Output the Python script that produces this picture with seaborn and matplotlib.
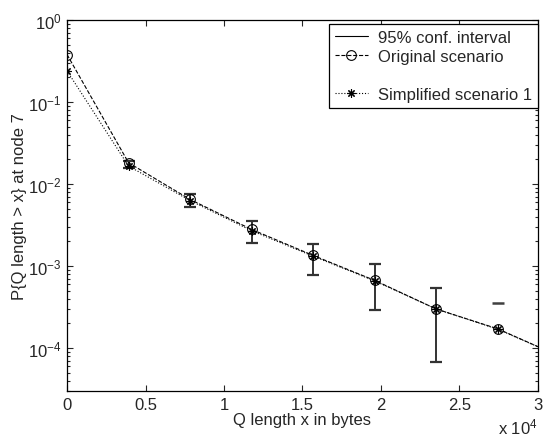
"""Tail probability of the queue length at node 7, original vs simplified."""

import matplotlib
matplotlib.use("Agg")
import matplotlib.pyplot as plt
import matplotlib.ticker as mticker
import pandas as pd
import seaborn as sns
from matplotlib.lines import Line2D

# Queue lengths (bytes) at which the distribution was evaluated.
q_len = [0, 3920, 7840, 11760, 15680, 19600, 23520, 27440, 31360]
p_orig = [0.38, 0.0182, 0.0065, 0.0028, 0.00135, 0.00067, 0.0003, 0.000172, 0.00008]
p_simp = [0.24, 0.0166, 0.0063, 0.0027, 0.00132, 0.00066, 0.0003, 0.00017, 0.00008]

# 95% confidence intervals (x positions, lower and upper bound).
ci_x = [3920, 7840, 11760, 15680, 19600, 23520]
ci_low = [0.0158, 0.0053, 0.00193, 0.00079, 0.00029, 0.000068]
ci_high = [0.0194, 0.0076, 0.00354, 0.00184, 0.00105, 0.000534]
# Last point: only the upper bound is positive.
ci_top_x = [27440]
ci_top = [0.000357]

FS = 12


def _main() -> None:
    sns.set_style("ticks")
    plt.rcParams["font.family"] = ["Liberation Sans", "DejaVu Sans"]
    plt.rcParams["mathtext.default"] = "regular"
    plt.rcParams["font.size"] = FS

    df = pd.DataFrame({"q": q_len, "orig": p_orig, "simp": p_simp})

    fig = plt.figure(figsize=(5.45, 4.39), dpi=100)
    ax = fig.add_axes([0.123, 0.107, 0.864, 0.845])

    # Confidence intervals.
    err_lo = [p - lo for p, lo in zip(p_orig[1:7], ci_low)]
    err_hi = [hi - p for p, hi in zip(p_orig[1:7], ci_high)]
    ax.errorbar(ci_x, p_orig[1:7], yerr=[err_lo, err_hi], fmt="none",
                ecolor="0.2", elinewidth=1.4, capsize=4.5, capthick=1.6)
    ax.plot(ci_top_x, ci_top, linestyle="none", marker="_", color="0.25",
            markersize=9, markeredgewidth=1.8)

    sns.lineplot(data=df, x="q", y="orig", ax=ax, color="k", linestyle="--",
                 linewidth=0.8, marker="o", markersize=7, markerfacecolor="none",
                 markeredgecolor="k", markeredgewidth=0.8, estimator=None)
    sns.lineplot(data=df, x="q", y="simp", ax=ax, color="k", linestyle=":",
                 linewidth=0.8, marker=(8, 2, 0), markersize=6,
                 markeredgecolor="k", markeredgewidth=0.8, estimator=None)

    ax.set_yscale("log")
    ax.set_xlim(0, 30000)
    ax.set_ylim(3e-5, 1)
    ax.set_xticks([0, 5000, 10000, 15000, 20000, 25000, 30000])
    ax.xaxis.set_major_formatter(
        mticker.FuncFormatter(lambda v, _: f"{v / 1e4:g}"))
    ax.yaxis.set_major_locator(mticker.LogLocator(base=10, numticks=10))
    ax.yaxis.set_minor_locator(
        mticker.LogLocator(base=10, subs=range(2, 10), numticks=10))
    ax.yaxis.set_minor_formatter(mticker.NullFormatter())
    ax.tick_params(which="both", direction="in", top=True, right=True,
                   labelsize=FS, width=0.8)
    ax.tick_params(which="major", length=4, pad=4)
    ax.tick_params(which="minor", length=2.5)
    for spine in ax.spines.values():
        spine.set_visible(True)
        spine.set_color("k")
        spine.set_linewidth(0.9)

    ax.set_xlabel("Q length x in bytes", fontsize=FS, labelpad=0)
    ax.set_ylabel("P{Q length > x} at node 7", fontsize=FS, labelpad=1)
    ax.text(1.0, -0.068, "x 10$^4$", transform=ax.transAxes,
            ha="right", va="top", fontsize=FS)

    handles = [
        Line2D([], [], color="k", linewidth=0.8),
        Line2D([], [], color="k", linestyle="--", linewidth=0.8, marker="o",
               markersize=7, markerfacecolor="none", markeredgewidth=0.8),
        Line2D([], [], color="none"),
        Line2D([], [], color="k", linestyle=":", linewidth=0.8,
               marker=(8, 2, 0), markersize=6, markeredgewidth=0.8),
    ]
    labels = ["95% conf. interval", "Original scenario", " ",
              "Simplified scenario 1"]
    leg = ax.legend(handles, labels, loc="upper right",
                    bbox_to_anchor=(1.0, 0.99), borderaxespad=0,
                    fancybox=False, framealpha=1, edgecolor="k",
                    fontsize=FS, handlelength=2.0, handletextpad=0.6,
                    labelspacing=0.25, borderpad=0.35)
    leg.get_frame().set_linewidth(0.9)

    fig.savefig("out.png", dpi=100, facecolor="w")


if __name__ == "__main__":
    _main()
